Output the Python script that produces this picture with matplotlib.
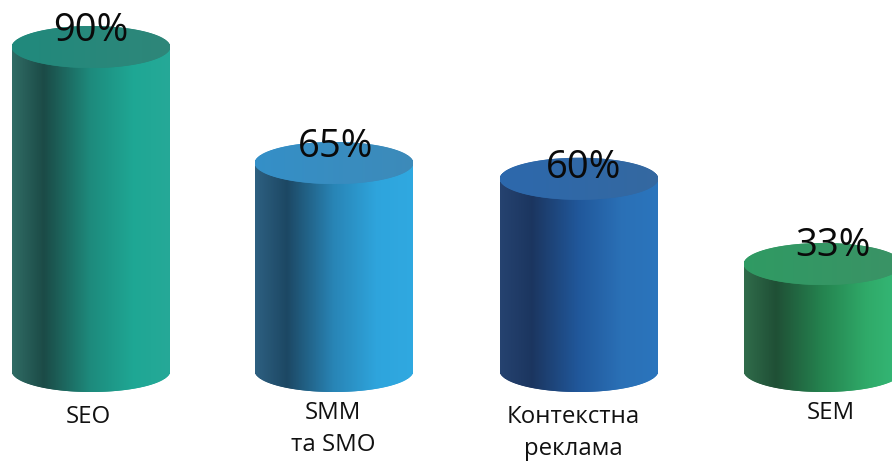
import numpy as np
import matplotlib
matplotlib.use("Agg")
import matplotlib.pyplot as plt
from matplotlib.colors import LinearSegmentedColormap

labels = ["SEO", "SMM\nта SMO", "Контекстна\nреклама", "SEM"]
values = [90, 65, 60, 33]

# side shading of each cylinder, left to right
side_stops = [0, 0.2, 0.5, 0.78, 1]
side_colors = [
    ["#2f6b64", "#1b4a46", "#1d8a7c", "#1ea794", "#25a897"],
    ["#2d5f80", "#1c4763", "#2884b5", "#2ea4dc", "#2fa8e0"],
    ["#25426f", "#1b355f", "#20579a", "#2a70b6", "#2a74bc"],
    ["#2f6b4a", "#1f4f35", "#24834f", "#2fa968", "#34b876"],
]
lid_colors = [
    ["#20897c", "#2e8679"],
    ["#348fc7", "#3c8ab9"],
    ["#2c68ac", "#3468a0"],
    ["#2f9a63", "#3a9265"],
]

# the y axis is not linear: (value, pixels from the top of the figure)
axis_values = np.array([-28.0, 0, 33, 65, 90, 105])
axis_px = np.array([461.0, 371, 264, 163, 47, 0])

W, H = 892, 461
BAR_W = 158
RY = 21
CENTERS_PX = [91, 334, 579, 823]


def forward(v):
    return np.interp(v, axis_values, -axis_px)


def inverse(p):
    return np.interp(p, -axis_px, axis_values)


def shift(v, dy):
    # move a value by dy pixels downward on screen
    return inverse(forward(v) - dy)


def draw_columns(ax, xs, y0, y1, colors):
    # 2px strokes one pixel apart, so no white shows between columns
    lc = ax.vlines(xs, y0, y1, colors=colors, linewidth=2 * 72 / 100, capstyle="butt")
    lc.set_snap(False)
    return lc


fig = plt.figure(figsize=(W / 100, H / 100), dpi=100)
ax = fig.add_axes([0, 0, 1, 1])
ax.set_yscale("function", functions=(forward, inverse))
ax.set_xlim(0, W)
ax.set_ylim(-28, 105)
ax.axis("off")

plt.rcParams["font.family"] = ["Open Sans", "DejaVu Sans"]

for i, v in enumerate(values):
    cx = CENTERS_PX[i]
    xs = np.arange(cx - BAR_W / 2 + 1, cx + BAR_W / 2, 1.0)
    t = (xs - xs[0]) / (xs[-1] - xs[0])
    arc = RY * np.sqrt(np.clip(1 - (2 * (xs - cx + BAR_W / 2) / BAR_W - 1) ** 2, 0, 1))

    side_cmap = LinearSegmentedColormap.from_list("side", list(zip(side_stops, side_colors[i])))
    lid_cmap = LinearSegmentedColormap.from_list("lid", lid_colors[i])

    # body runs from the curved bottom edge up to the middle of the lid
    draw_columns(ax, xs, shift(0, arc), v, side_cmap(t))
    # lid ellipse on top
    draw_columns(ax, xs, shift(v, arc), shift(v, -arc), lid_cmap(t))

# percent labels sit over the lid
pct_dx = [0, 2, 5, 10]
pct_dy = [16, 16, 11, 18]
for i, v in enumerate(values):
    ax.annotate(f"{v}%", (CENTERS_PX[i], v), xytext=(pct_dx[i], pct_dy[i]),
                textcoords="offset pixels", ha="center", va="center",
                fontsize=27.5, color="#0a0a0a")

label_x = [88, 333, 573, 831]
label_y = [417, 429, 433, 413]
for x, y, s in zip(label_x, label_y, labels):
    fig.text(x / W, 1 - y / H, s, ha="center", va="center", fontsize=17.3,
             color="#111111", linespacing=1.42)

fig.savefig("out.png", dpi=100)
